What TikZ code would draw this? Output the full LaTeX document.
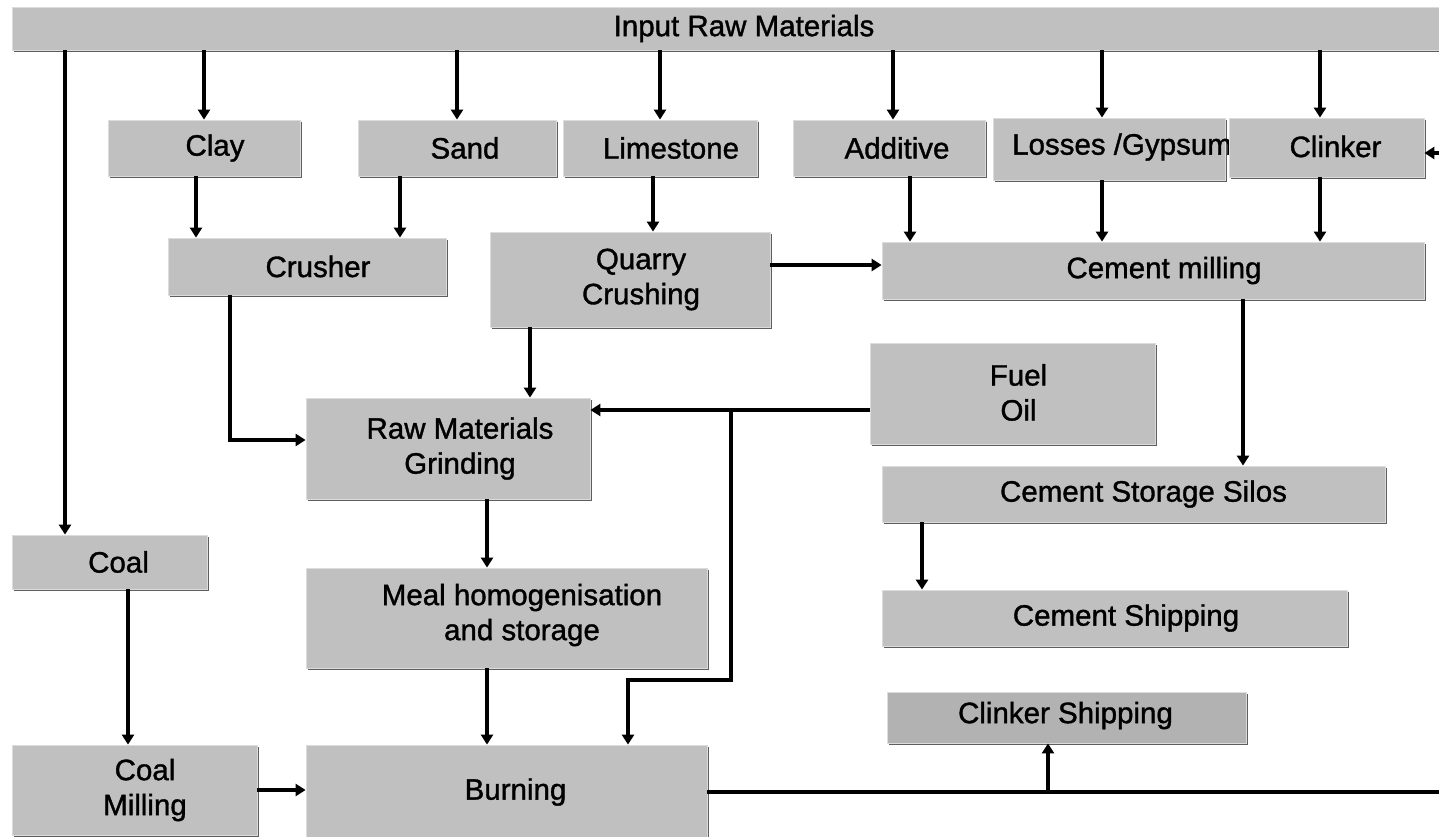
\documentclass[tikz,border=0pt]{standalone}
\usepackage{fontspec}
\setmainfont{Liberation Sans}[FakeBold=1.2]
\usetikzlibrary{arrows.meta,shadows,calc}
\definecolor{boxgray}{HTML}{C0C0C0}
\definecolor{boxdark}{HTML}{B2B2B2}
\definecolor{shadowgray}{HTML}{5E5E5E}
\definecolor{edgelight}{HTML}{DCDCDC}
\begin{document}
\begin{tikzpicture}[x=1pt,y=-1pt,
  box/.style={rectangle, fill=boxgray, draw=edgelight, line width=0.8pt, inner sep=0pt,
    drop shadow={shadow xshift=2.2pt, shadow yshift=-2.2pt, fill=shadowgray, opacity=1}},
  txt/.style={font=\fontsize{29.5}{35}\selectfont, align=center, inner sep=0pt},
  arr/.style={line width=3.4pt, -{Triangle[width=12pt,length=10pt]}},
  ln/.style={line width=3.4pt}]
\clip (0,0) rectangle (1439,837);
\fill[white] (0,0) rectangle (1439,837);
% boxes
\node[box, minimum width=1448pt, minimum height=43pt, label={[txt,xshift=8pt]center:Input Raw Materials}] (inp) at (736,28.5) {};
\node[box, minimum width=192pt, minimum height=56pt, label={[txt,xshift=11pt]center:Clay}] (clay) at (204,148) {};
\node[box, minimum width=198pt, minimum height=56pt, label={[txt,xshift=8pt]center:Sand}] (sand) at (457,148) {};
\node[box, minimum width=194pt, minimum height=56pt, label={[txt,xshift=11pt]center:Limestone}] (lime) at (660,148) {};
\node[box, minimum width=192pt, minimum height=56pt, label={[txt,xshift=8pt]center:Additive}] (addi) at (889,148) {};
\node[box, minimum width=232pt, minimum height=62pt, label={[txt,xshift=13pt,yshift=2pt]center:Losses /Gypsum}] (loss) at (1109,149) {};
\node[box, minimum width=195pt, minimum height=59pt, label={[txt,xshift=9pt,yshift=1pt]center:Clinker}] (clink) at (1326.5,147.5) {};
\node[box, minimum width=278pt, minimum height=57pt, label={[txt,xshift=11pt]center:Crusher}] (crusher) at (307,266.5) {};
\node[box, minimum width=280pt, minimum height=95pt, label={[txt,xshift=11pt]center:{Quarry\\Crushing}}] (quarry) at (630,279.5) {};
\node[box, minimum width=542pt, minimum height=57pt, label={[txt,xshift=11pt]center:Cement milling}] (cmill) at (1153,270.5) {};
\node[box, minimum width=285pt, minimum height=101pt, label={[txt,xshift=6pt,yshift=1pt]center:{Fuel\\Oil}}] (fuel) at (1012.5,393.5) {};
\node[box, minimum width=284pt, minimum height=101pt, label={[txt,xshift=12pt]center:{Raw Materials\\Grinding}}] (rmg) at (448,448.5) {};
\node[box, minimum width=503pt, minimum height=56pt, label={[txt,xshift=10pt]center:Cement Storage Silos}] (silos) at (1133.5,494) {};
\node[box, minimum width=195pt, minimum height=54pt, label={[txt,xshift=9pt]center:Coal}] (coal) at (109.5,562) {};
\node[box, minimum width=401pt, minimum height=100pt, label={[txt,xshift=15.5pt,yshift=3pt]center:{Meal homogenisation\\and storage}}] (meal) at (506.5,618) {};
\node[box, minimum width=465pt, minimum height=56pt, label={[txt,xshift=11.5pt]center:Cement Shipping}] (cship) at (1114.5,618) {};
\node[box, fill=boxdark, minimum width=359pt, minimum height=51pt, label={[txt,xshift=-1pt,yshift=2pt]center:Clinker Shipping}] (kship) at (1066.5,717.5) {};
\node[box, minimum width=245pt, minimum height=90pt, label={[txt,xshift=10.5pt]center:{Coal\\Milling}}] (cmil) at (134.5,790) {};
\node[box, minimum width=401pt, minimum height=94pt, label={[txt,xshift=9pt]center:Burning}] (burn) at (506.5,792) {};
% connector coordinates
\coordinate (coalin) at ([xshift=-44.5pt]coal.north);
\coordinate (addin) at ([xshift=4pt]addi.north);
\coordinate (lossin) at ([xshift=-7pt]loss.north);
\coordinate (clkin) at ([xshift=-6.5pt]clink.north);
\coordinate (crin1) at ([xshift=-111pt]crusher.north);
\coordinate (crin2) at ([xshift=93pt]crusher.north);
\coordinate (qin) at ([xshift=23pt]quarry.north);
\coordinate (cm1) at ([xshift=-243pt]cmill.north);
\coordinate (cm2) at ([xshift=-51pt]cmill.north);
\coordinate (cm3) at ([xshift=167pt]cmill.north);
\coordinate (qout) at ([yshift=14.5pt]quarry.east);
\coordinate (crout) at ([xshift=-77pt]crusher.south);
\coordinate (rmgw) at ([yshift=8.5pt]rmg.west);
\coordinate (rmgn) at ([xshift=82pt]rmg.north);
\coordinate (rmge) at ([yshift=38.5pt]rmg.east);
\coordinate (fj) at (731,410);
\coordinate (burnin) at ([xshift=121.5pt]burn.north);
\coordinate (cmout) at ([xshift=90pt]cmill.south);
\coordinate (cshin) at ([xshift=-192.5pt]cship.north);
\coordinate (mein) at ([xshift=-19.5pt]meal.north);
\coordinate (buin) at ([xshift=-19.5pt]burn.north);
\coordinate (cmilin) at ([xshift=-6.5pt]cmil.north);
\coordinate (outR) at (1445,792);
\coordinate (kin) at ([xshift=-18.5pt]kship.south);
\coordinate (inR) at (1445,153);
% connectors from the input bar
\draw[arr] (inp.south -| coalin) -- (coalin);
\draw[arr] (inp.south -| clay.north) -- (clay.north);
\draw[arr] (inp.south -| sand.north) -- (sand.north);
\draw[arr] (inp.south -| lime.north) -- (lime.north);
\draw[arr] (inp.south -| addin) -- (addin);
\draw[arr] (inp.south -| lossin) -- (lossin);
\draw[arr] (inp.south -| clkin) -- (clkin);
% second row
\draw[arr] (clay.south -| crin1) -- (crin1);
\draw[arr] (sand.south -| crin2) -- (crin2);
\draw[arr] (lime.south -| qin) -- (qin);
\draw[arr] (addi.south -| cm1) -- (cm1);
\draw[arr] (loss.south -| cm2) -- (cm2);
\draw[arr] (clink.south -| cm3) -- (cm3);
\draw[arr] (qout) -- (qout -| cmill.west);
% to grinding
\draw[arr] (crout) |- (rmgw);
\draw[arr] (quarry.south -| rmgn) -- (rmgn);
\draw[arr] (rmge -| fuel.west) -- (rmge);
\draw[arr] (fj) -- ++(0,270) -| (burnin);
% cement side
\draw[arr] (cmout) -- (cmout |- silos.north);
\draw[arr] (silos.south -| cshin) -- (cshin);
% kiln line
\draw[arr] (rmg.south -| mein) -- (mein);
\draw[arr] (meal.south -| buin) -- (buin);
\draw[arr] (coal.south -| cmilin) -- (cmilin);
\draw[arr] (cmil.east) -- (cmil.east -| burn.west);
\draw[ln] (burn.east) -- (burn.east -| outR);
\draw[arr] (kin |- burn.east) -- (kin);
\draw[arr] (inR) -- (inR -| clink.east);
\end{tikzpicture}
\end{document}
